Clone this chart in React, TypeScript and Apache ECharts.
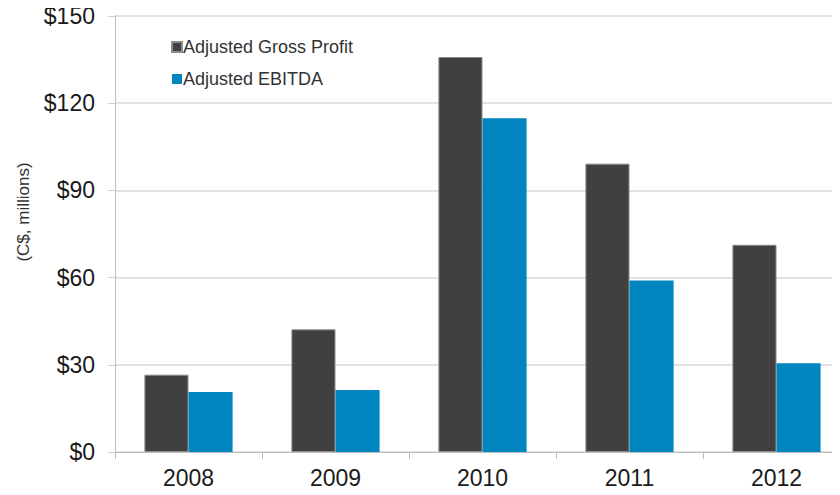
import React, { useEffect, useRef } from "react";
import * as echarts from "echarts";

const categories = ["2008", "2009", "2010", "2011", "2012"];
const grossProfit = [26.6, 42.2, 135.9, 99.2, 71.3];
const ebitda = [20.6, 21.3, 114.8, 59.0, 30.5];
const yTicks = { min: 0, max: 150, interval: 30 };
const yAxisTitle = "(C$, millions)";

export default function App() {
  const ref = useRef<HTMLDivElement>(null);
  useEffect(() => {
    if (!ref.current) return;
    const chart = echarts.init(ref.current, null, { renderer: "svg" });
    chart.setOption({
      animation: false,
      backgroundColor: "#ffffff",
      textStyle: { fontFamily: "Liberation Sans, Arial, sans-serif" },
      grid: { left: 115, top: 16, right: 0, bottom: 43, containLabel: false },
      legend: {
        orient: "vertical",
        left: 166,
        top: 33,
        itemWidth: 10,
        itemHeight: 10,
        itemGap: 14,
        icon: "rect",
        textStyle: { fontSize: 18, color: "#333333", padding: [0, 0, 0, -4] },
        data: ["Adjusted Gross Profit", "Adjusted EBITDA"],
      },
      graphic: [
        {
          type: "text",
          x: 23,
          y: 212,
          rotation: Math.PI / 2,
          style: {
            text: yAxisTitle,
            fontSize: 17,
            fill: "#333333",
            fontFamily: "Liberation Sans, Arial, sans-serif",
            align: "center",
            verticalAlign: "middle",
          },
        },
      ],
      xAxis: {
        type: "category",
        data: categories,
        axisLine: { lineStyle: { color: "#bfbfbf", width: 1 } },
        axisTick: { show: true, length: 7, lineStyle: { color: "#bfbfbf" } },
        axisLabel: { fontSize: 23, color: "#1a1a1a", margin: 14 },
      },
      yAxis: {
        type: "value",
        min: yTicks.min,
        max: yTicks.max,
        interval: yTicks.interval,
        axisLine: { show: true, lineStyle: { color: "#bfbfbf", width: 1 } },
        axisTick: { show: true, length: 7, lineStyle: { color: "#d0d0d0" } },
        splitLine: { lineStyle: { color: "#d9d9d9", width: 1.5 } },
        axisLabel: {
          fontSize: 23,
          color: "#1a1a1a",
          margin: 20,
          formatter: (v: number) => "$" + v,
        },
      },
      series: [
        {
          name: "Adjusted Gross Profit",
          type: "bar",
          data: grossProfit,
          barGap: "0%",
          barCategoryGap: "40%",
          itemStyle: { color: "#404040", borderColor: "#8c8c8c", borderWidth: 1 },
        },
        {
          name: "Adjusted EBITDA",
          type: "bar",
          data: ebitda,
          itemStyle: { color: "#0085be" },
        },
      ],
    });
    return () => chart.dispose();
  }, []);
  return (
    <div style={{ width: 840, height: 495, margin: -8, overflow: "hidden", position: "relative" }}>
      <div ref={ref} style={{ width: 850, height: 495 }} />
    </div>
  );
}
